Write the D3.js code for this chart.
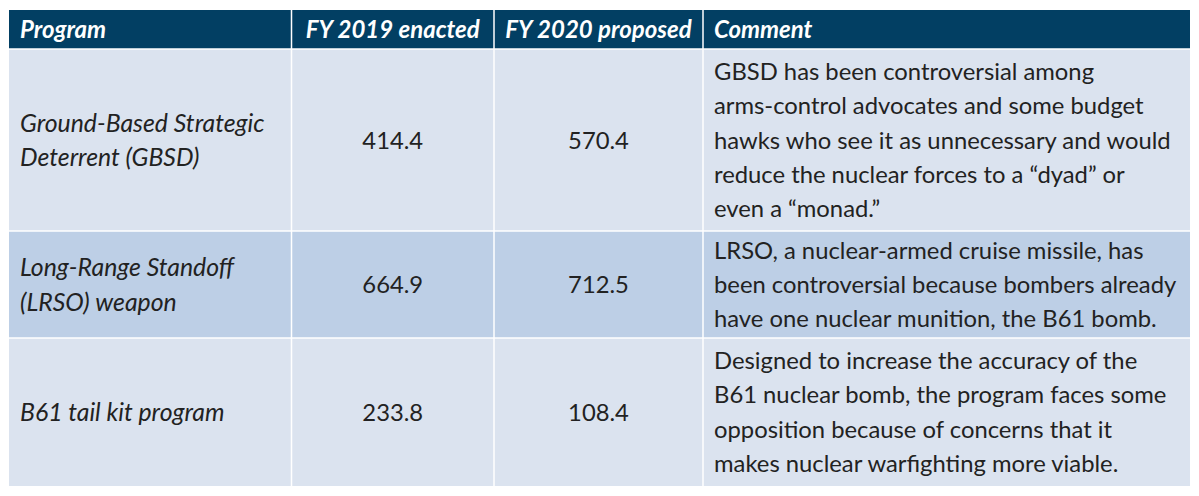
<!DOCTYPE html>
<html>
<head>
<meta charset="utf-8">
<script src="https://cdn.jsdelivr.net/npm/d3@7"></script>
<style>
  body { margin: 0; background: #fff; }
  svg text { font-family: Lato, "Noto Sans", sans-serif; }
</style>
</head>
<body>
<div id="table-container"></div>
<script>
// tablo verileri
const columns = ["Program", "FY 2019 enacted", "FY 2020 proposed", "Comment"];
const programs = [
    ["Ground-Based Strategic", "Deterrent (GBSD)"],
    ["Long-Range Standoff", "(LRSO) weapon"],
    ["B61 tail kit program"]
];
const fy2019 = [414.4, 664.9, 233.8];
const fy2020 = [570.4, 712.5, 108.4];
const comments = [
    ["GBSD has been controversial among",
     "arms-control advocates and some budget",
     "hawks who see it as unnecessary and would",
     "reduce the nuclear forces to a \u201cdyad\u201d or",
     "even a \u201cmonad.\u201d"],
    ["LRSO, a nuclear-armed cruise missile, has",
     "been controversial because bombers already",
     "have one nuclear munition, the B61 bomb."],
    ["Designed to increase the accuracy of the",
     "B61 nuclear bomb, the program faces some",
     "opposition because of concerns that it",
     "makes nuclear warfighting more viable."]
];

const width = 1199;
const height = 496;
const lineH = 34.3;
const bodySize = 23.8;   // normal metin
const italSize = 24.8;   // program kolonu
const headSize = 24;     // başlık

// kolon sınırları
const colEdges = [9, 291.5, 494, 703, 1190];
const headTop = 10, headBottom = 49;
const rowEdges = [headBottom, 231, 338, 486];

const svg = d3.select('#table-container')
    .append('svg')
    .attr('width', width)
    .attr('height', height);

const x = d3.scaleOrdinal().domain(d3.range(4)).range(colEdges.slice(0, 4));
const w = i => colEdges[i + 1] - colEdges[i];
const centered = i => i === 1 || i === 2;

const rows = d3.range(programs.length).map(i => ({
    cells: [programs[i], [fy2019[i].toFixed(1)], [fy2020[i].toFixed(1)], comments[i]],
    top: rowEdges[i],
    bottom: rowEdges[i + 1],
    fill: i % 2 === 1 ? '#bdcfe6' : '#dbe3ef'
}));

// başlık
const head = svg.append('g');
head.selectAll('rect')
    .data(columns)
    .join('rect')
    .attr('x', (d, i) => x(i))
    .attr('y', headTop)
    .attr('width', (d, i) => w(i))
    .attr('height', headBottom - headTop)
    .attr('fill', '#023f63');

head.selectAll('text')
    .data(columns)
    .join('text')
    .attr('x', (d, i) => centered(i) ? x(i) + w(i) / 2 : x(i) + 11)
    .attr('y', (headTop + headBottom) / 2)
    .attr('dy', '0.36em')
    .attr('text-anchor', (d, i) => centered(i) ? 'middle' : 'start')
    .attr('fill', '#fff')
    .style('font-size', headSize + 'px')
    .style('font-weight', 'bold')
    .style('font-style', 'italic')
    .text(d => d);

// satırlar
const rowG = svg.append('g')
    .selectAll('g')
    .data(rows)
    .join('g');

rowG.selectAll('rect')
    .data(r => r.cells.map((c, i) => ({ r, i })))
    .join('rect')
    .attr('x', d => x(d.i))
    .attr('y', d => d.r.top)
    .attr('width', d => w(d.i))
    .attr('height', d => d.r.bottom - d.r.top)
    .attr('fill', d => d.r.fill);

rowG.selectAll('text')
    .data(r => r.cells.map((c, i) => ({ r, i, lines: c })))
    .join('text')
    .attr('fill', '#222')
    .style('font-size', d => (d.i === 0 ? italSize : bodySize) + 'px')
    .style('font-style', d => d.i === 0 ? 'italic' : 'normal')
    .attr('text-anchor', d => centered(d.i) ? 'middle' : 'start')
    .each(function(d) {
        const mid = (d.r.top + d.r.bottom) / 2;
        const first = mid - (d.lines.length - 1) * lineH / 2;
        const tx = centered(d.i) ? x(d.i) + w(d.i) / 2 : x(d.i) + 11;
        d3.select(this).selectAll('tspan')
            .data(d.lines)
            .join('tspan')
            .attr('x', tx)
            .attr('y', (l, k) => first + k * lineH)
            .attr('dy', '0.36em')
            .text(l => l);
    });

// beyaz çizgiler
const grid = svg.append('g').attr('stroke', '#fff').attr('stroke-width', 1.5);
grid.selectAll('line.v')
    .data(colEdges.slice(1, 4))
    .join('line')
    .attr('class', 'v')
    .attr('x1', d => d).attr('x2', d => d)
    .attr('y1', headTop).attr('y2', rowEdges[rowEdges.length - 1]);
grid.selectAll('line.h')
    .data(rowEdges.slice(0, -1))
    .join('line')
    .attr('class', 'h')
    .attr('x1', colEdges[0]).attr('x2', colEdges[4])
    .attr('y1', d => d).attr('y2', d => d);
</script>
</body>
</html>
